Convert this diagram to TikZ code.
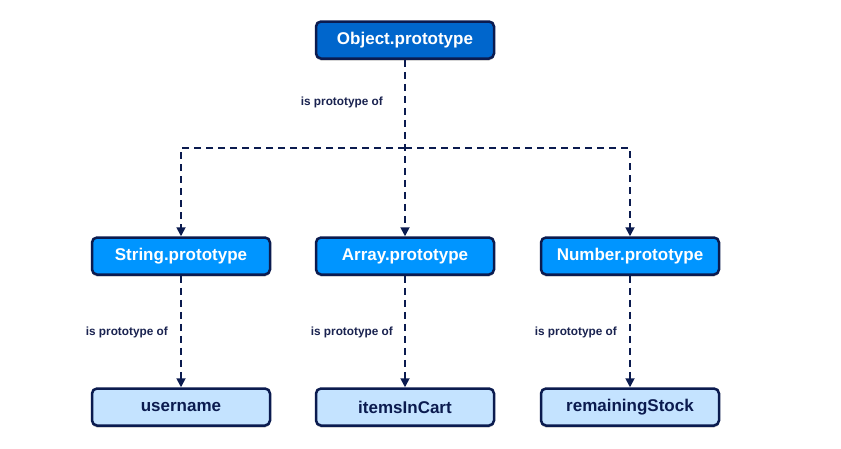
\documentclass[tikz,border=0pt]{standalone}
\usepackage{fontspec}
\setmainfont{Liberation Sans}
\usetikzlibrary{arrows.meta,shadows}
\definecolor{navy}{HTML}{0B1B4F}
\definecolor{topblue}{HTML}{0066CC}
\definecolor{midblue}{HTML}{0095FF}
\definecolor{lightblue}{HTML}{C4E3FF}
\definecolor{txtnavy}{HTML}{1A2350}
\begin{document}
\begin{tikzpicture}[x=1pt,y=-1pt,
  box/.style={draw=navy,line width=2.5pt,rounded corners=5pt,minimum width=178pt,minimum height=37pt,inner sep=0pt,font=\bfseries\fontsize{17}{20}\selectfont,
    drop shadow={shadow xshift=0pt,shadow yshift=-2pt,opacity=0.25,fill=black}},
  topbox/.style={box,fill=topblue,text=white},
  midbox/.style={box,fill=midblue,text=white},
  leafbox/.style={box,fill=lightblue,text=navy},
  link/.style={draw=navy,line width=1.8pt,dash pattern=on 7pt off 5pt,-{Triangle[length=9pt,width=9pt]}},
  lbl/.style={font=\bfseries\fontsize{11.8}{14}\selectfont,text=txtnavy,anchor=east,inner sep=0pt}]
\useasboundingbox (0,0) rectangle (841,448);
\fill[white] (0,0) rectangle (841,448);
\node[topbox] (obj) at (405,40) {Object.prototype};
\node[midbox] (str) at (181,256) {String.prototype};
\node[midbox] (arr) at (405,256) {Array.prototype};
\node[midbox] (num) at (630,256) {Number.prototype};
\node[leafbox] (usr) at (181,407) {username};
\node[leafbox] (itm) at (405,407) {itemsInCart};
\node[leafbox] (rem) at (630,407) {remainingStock};
\coordinate (hl) at (181,148);
\coordinate (hr) at (630,148);
\draw[link] (obj.south) -- (arr.north);
\draw[link] (obj.south |- hl) -- (hl) -- (str.north);
\draw[link] (obj.south |- hr) -- (hr) -- (num.north);
\draw[link] (str.south) -- (usr.north);
\draw[link] (arr.south) -- (itm.north);
\draw[link] (num.south) -- (rem.north);
\node[lbl] (l0) at (383,102) {is prototype of};
\node[lbl] (l1) at (168,332) {is prototype of};
\node[lbl] (l2) at (393,332) {is prototype of};
\node[lbl] (l3) at (617,332) {is prototype of};
\end{tikzpicture}
\end{document}
